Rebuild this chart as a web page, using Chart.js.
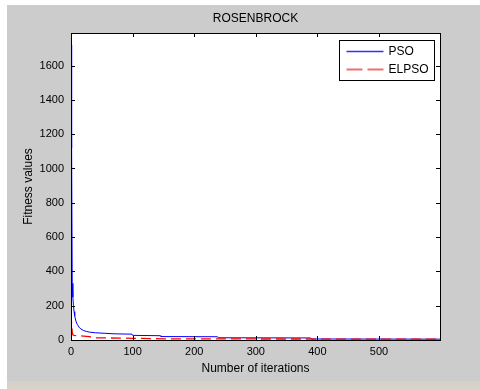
<!DOCTYPE html>
<html>
<head>
<meta charset="utf-8">
<script src="https://cdn.jsdelivr.net/npm/chart.js@4"></script>
<style>
    html, body { margin: 0; padding: 0; background: #fff; }
    #fig { position: absolute; left: 7px; top: 5px; width: 473px; height: 376px; background: #cccccc; }
    #strip { position: absolute; left: 7px; top: 381px; width: 473px; height: 8px; background: #d6d2ca; }
</style>
</head>
<body>
<div id="fig"><canvas id="rosen-chart" width="473" height="376"></canvas></div>
<div id="strip"></div>
<script>
(function () {
    'use strict';

    /* ── Data ── */
    var psoIter = [0, 1, 2, 3, 4, 5, 6, 8, 10, 13, 16, 20, 25, 30, 40, 55, 70, 99, 100, 145, 146, 238, 239, 389, 390, 599];
    var psoFit  = [1720, 1120, 330, 250, 200, 165, 140, 110, 92, 75, 64, 56, 50, 46, 42, 39, 36, 34, 27, 25, 20, 19, 13, 12, 6, 5];

    var elIter = [0, 1, 2, 3, 5, 10, 20, 30, 35, 60, 100, 150, 300, 599];
    var elFit  = [155, 90, 45, 30, 27, 25, 23, 20, 13, 12, 10, 7, 6, 5];

    var xTicks = [0, 100, 200, 300, 400, 500];
    var yTicks = [0, 200, 400, 600, 800, 1000, 1200, 1400, 1600];

    var seriesNames = ['PSO', 'ELPSO'];

    var fontFamily = "'Liberation Sans', Arial, sans-serif";

    function points(xs, ys) {
        return xs.map(function (x, i) { return { x: x, y: ys[i] }; });
    }

    function plainLabel(v) { return String(v); }

    /* ── MATLAB-style white axes, box with inward ticks, legend ── */
    var matlabAxes = {
        id: 'matlabAxes',
        beforeDatasetsDraw: function (chart) {
            var a = chart.chartArea;
            chart.ctx.save();
            chart.ctx.fillStyle = '#fff';
            chart.ctx.fillRect(a.left, a.top, a.right - a.left, a.bottom - a.top);
            chart.ctx.restore();
        },
        afterDraw: function (chart) {
            var ctx = chart.ctx;
            var a = chart.chartArea;
            var xs = chart.scales.x;
            var ys = chart.scales.y;
            var tl = 4;

            ctx.save();
            ctx.strokeStyle = '#000';
            ctx.lineWidth = 1;
            ctx.strokeRect(Math.round(a.left) + 0.5, Math.round(a.top) + 0.5,
                Math.round(a.right - a.left), Math.round(a.bottom - a.top));

            ctx.beginPath();
            xs.ticks.forEach(function (t) {
                var px = Math.round(xs.getPixelForValue(t.value)) + 0.5;
                ctx.moveTo(px, a.bottom); ctx.lineTo(px, a.bottom - tl);
                ctx.moveTo(px, a.top);    ctx.lineTo(px, a.top + tl);
            });
            ys.ticks.forEach(function (t) {
                var py = Math.round(ys.getPixelForValue(t.value)) + 0.5;
                ctx.moveTo(a.left, py);  ctx.lineTo(a.left + tl, py);
                ctx.moveTo(a.right, py); ctx.lineTo(a.right - tl, py);
            });
            ctx.stroke();

            // legend box
            var bw = 95, bh = 40;
            var bx = Math.round(a.right - 6 - bw) + 0.5;
            var by = Math.round(a.top + 7) + 0.5;
            ctx.fillStyle = '#fff';
            ctx.fillRect(bx, by, bw, bh);
            ctx.strokeRect(bx, by, bw, bh);

            var lx0 = bx + 7, lx1 = bx + 44;
            ctx.strokeStyle = '#3030ff';
            ctx.lineWidth = 1.5;
            ctx.beginPath();
            ctx.moveTo(lx0, by + 11); ctx.lineTo(lx1, by + 11);
            ctx.stroke();

            ctx.strokeStyle = '#f07070';
            ctx.lineWidth = 2;
            ctx.setLineDash([16, 5]);
            ctx.beginPath();
            ctx.moveTo(lx0, by + 29); ctx.lineTo(lx1, by + 29);
            ctx.stroke();
            ctx.setLineDash([]);

            ctx.fillStyle = '#000';
            ctx.font = '12px ' + fontFamily;
            ctx.textAlign = 'left';
            ctx.textBaseline = 'middle';
            ctx.fillText(seriesNames[0], bx + 49, by + 11);
            ctx.fillText(seriesNames[1], bx + 49, by + 29);
            ctx.restore();
        }
    };

    new Chart(document.getElementById('rosen-chart'), {
        type: 'line',
        data: {
            datasets: [
                {
                    label: seriesNames[0],
                    data: points(psoIter, psoFit),
                    borderColor: '#0000ff',
                    borderWidth: 1,
                    pointRadius: 0,
                    tension: 0,
                    fill: false,
                    order: 1
                },
                {
                    label: seriesNames[1],
                    data: points(elIter, elFit),
                    borderColor: '#ff0000',
                    borderWidth: 1.3,
                    borderDash: [10, 5],
                    pointRadius: 0,
                    tension: 0,
                    fill: false,
                    order: 0
                }
            ]
        },
        options: {
            responsive: false,
            animation: false,
            layout: { padding: { left: 0, right: 40, top: 0, bottom: 0 } },
            plugins: {
                legend: { display: false },
                tooltip: { enabled: false },
                title: {
                    display: true,
                    text: 'ROSENBROCK',
                    fullSize: false,
                    color: '#000',
                    font: { family: fontFamily, size: 12, weight: 'normal' },
                    padding: { top: 6, bottom: 7.6 }
                }
            },
            scales: {
                x: {
                    type: 'linear',
                    min: 0,
                    max: 599,
                    grid: { display: false, drawTicks: false },
                    border: { display: false },
                    afterBuildTicks: function (s) {
                        s.ticks = xTicks.map(function (v) { return { value: v }; });
                    },
                    afterFit: function (s) { s.height = 41; },
                    ticks: {
                        color: '#000',
                        padding: 5,
                        maxRotation: 0,
                        autoSkip: false,
                        callback: plainLabel,
                        font: { family: fontFamily, size: 11 }
                    },
                    title: {
                        display: true,
                        text: 'Number of iterations',
                        color: '#000',
                        font: { family: fontFamily, size: 12 },
                        padding: { top: 0, bottom: 5 }
                    }
                },
                y: {
                    type: 'linear',
                    min: 0,
                    max: 1790,
                    grid: { display: false, drawTicks: false },
                    border: { display: false },
                    afterBuildTicks: function (s) {
                        s.ticks = yTicks.map(function (v) { return { value: v }; });
                    },
                    afterFit: function (s) { s.width = 64; },
                    ticks: {
                        color: '#000',
                        padding: 7,
                        autoSkip: false,
                        callback: plainLabel,
                        font: { family: fontFamily, size: 11 }
                    },
                    title: {
                        display: true,
                        text: 'Fitness values',
                        color: '#000',
                        font: { family: fontFamily, size: 12 },
                        padding: { top: 14, bottom: 0 }
                    }
                }
            }
        },
        plugins: [matlabAxes]
    });
})();
</script>
</body>
</html>
